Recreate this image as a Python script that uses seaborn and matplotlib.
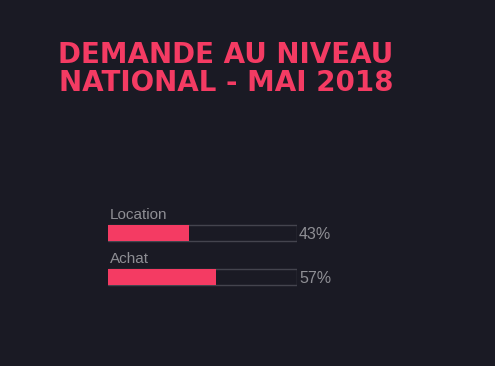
import matplotlib
matplotlib.use("Agg")
import matplotlib.pyplot as plt
import seaborn as sns
import pandas as pd

# données
categories = ["Location", "Achat"]
valeurs = [43, 57]
etiquettes = ["43%", "57%"]

fond = "#1a1a24"
rose = "#f43b63"
gris = "#8e8e94"

sns.set_style("dark", {"axes.facecolor": fond, "figure.facecolor": fond})
plt.rcParams["font.family"] = ["Liberation Sans", "DejaVu Sans"]

df = pd.DataFrame({"categorie": categories, "valeur": valeurs})
df["total"] = 100

fig = plt.figure(figsize=(4.95, 3.66), dpi=100)
fig.patch.set_facecolor(fond)
ax = fig.add_axes([108 / 495, 66 / 366, 189 / 495, 100 / 366])
ax.set_facecolor(fond)

# fond des barres
sns.barplot(data=df, x="total", y="categorie", orient="h", color=fond,
            edgecolor="#44444e", linewidth=1, width=0.37, saturation=1, ax=ax)
# remplissage
sns.barplot(data=df, x="valeur", y="categorie", orient="h", color=rose,
            linewidth=0, width=0.37, saturation=1, ax=ax)

for i, (cat, lab) in enumerate(zip(categories, etiquettes)):
    ax.text(1, i - 0.42, cat, color=gris, fontsize=11, va="center", ha="left")
    ax.text(101, i + 0.04, lab, color=gris, fontsize=11.5, va="center", ha="left")

ax.set_xlim(0, 100)
ax.set_ylim(1.523, -0.75)
ax.axis("off")

fig.text(226 / 495, 1 - 69 / 366, "DEMANDE AU NIVEAU\nNATIONAL - MAI 2018",
         color=rose, fontsize=20, fontweight="bold", ha="center", va="center",
         multialignment="center", linespacing=1.0, family=["DejaVu Sans"])

fig.savefig("out.png", dpi=100, facecolor=fond)
